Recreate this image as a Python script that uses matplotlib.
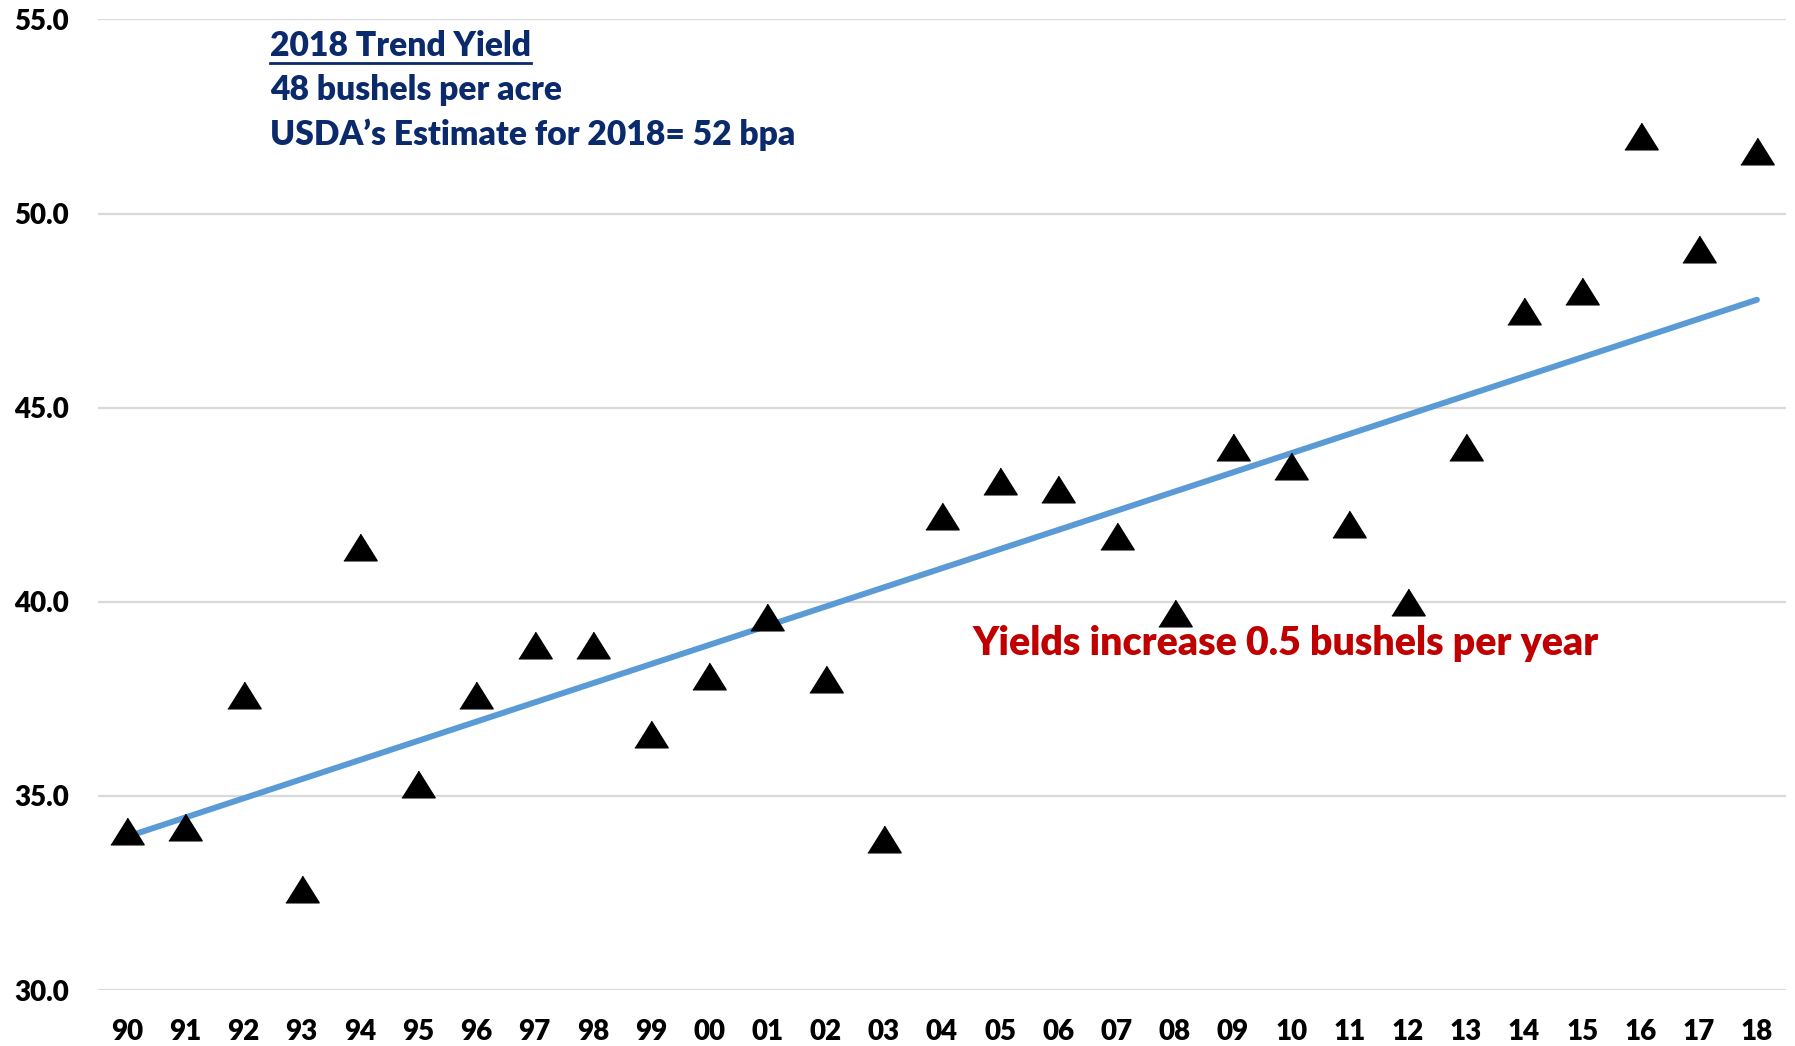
import numpy as np
import matplotlib
matplotlib.use("Agg")
from matplotlib import pyplot as plt
from matplotlib.lines import Line2D

plt.rcParams['font.family'] = ['Lato', 'DejaVu Sans']
plt.rcParams['font.weight'] = 'heavy'

years = ['90', '91', '92', '93', '94', '95', '96', '97', '98', '99',
         '00', '01', '02', '03', '04', '05', '06', '07', '08', '09',
         '10', '11', '12', '13', '14', '15', '16', '17', '18']
yields = [34.1, 34.2, 37.6, 32.6, 41.4, 35.3, 37.6, 38.9, 38.9, 36.6,
          38.1, 39.6, 38.0, 33.9, 42.2, 43.1, 42.9, 41.7, 39.7, 44.0,
          43.5, 42.0, 40.0, 44.0, 47.5, 48.0, 52.0, 49.1, 51.6]
# trend line values at first and last year, as drawn in the chart
trend_ends = [33.95, 47.78]
y_ticks = [30, 35, 40, 45, 50, 55]

navy = '#0B2A6B'
red = '#C00000'

fig = plt.figure(figsize=(17.95, 10.46), dpi=100)
ax = fig.add_axes([0.0546, 0.0535, 0.9404, 0.9279])

x = np.arange(len(years))
ax.plot([x[0], x[-1]], trend_ends, color='#5B9BD5', lw=4.3, solid_capstyle='round', zorder=2)

tri = [(-1, -0.8), (1, -0.8), (0, 0.8)]
ax.plot(x, yields, linestyle='none', marker=tri, markersize=24,
        color='black', zorder=3)

ax.set_xlim(-0.5, len(years) - 0.5)
ax.set_ylim(30, 55)
ax.set_xticks(x)
ax.set_xticklabels(years)
ax.set_yticks(y_ticks)
ax.set_yticklabels([f'{v:.1f}' for v in y_ticks])
ax.tick_params(length=0, labelsize=20, pad=21)
for s in ax.spines.values():
    s.set_visible(False)
ax.yaxis.grid(True, color='#D9D9D9', lw=1.6)
ax.set_axisbelow(True)

t1 = ax.text(0.102, 0.973, '2018 Trend Yield', transform=ax.transAxes,
             color=navy, fontsize=24.2, va='center', ha='left')
ax.text(0.102, 0.927, '48 bushels per acre', transform=ax.transAxes,
        color=navy, fontsize=24.2, va='center', ha='left')
ax.text(0.102, 0.881, 'USDA\u2019s Estimate for 2018= 52 bpa', transform=ax.transAxes,
        color=navy, fontsize=24.2, va='center', ha='left')
ax.text(0.518, 0.357, 'Yields increase 0.5 bushels per year', transform=ax.transAxes,
        color=red, fontsize=28.3, va='center', ha='left')

# underline for the heading
fig.canvas.draw()
bb = t1.get_window_extent()
W, H = fig.bbox.width, fig.bbox.height
uy = (bb.y0 - 1) / H
fig.add_artist(Line2D([bb.x0 / W, bb.x1 / W], [uy, uy], color=navy, lw=2))

fig.savefig('out.png', dpi=100)
